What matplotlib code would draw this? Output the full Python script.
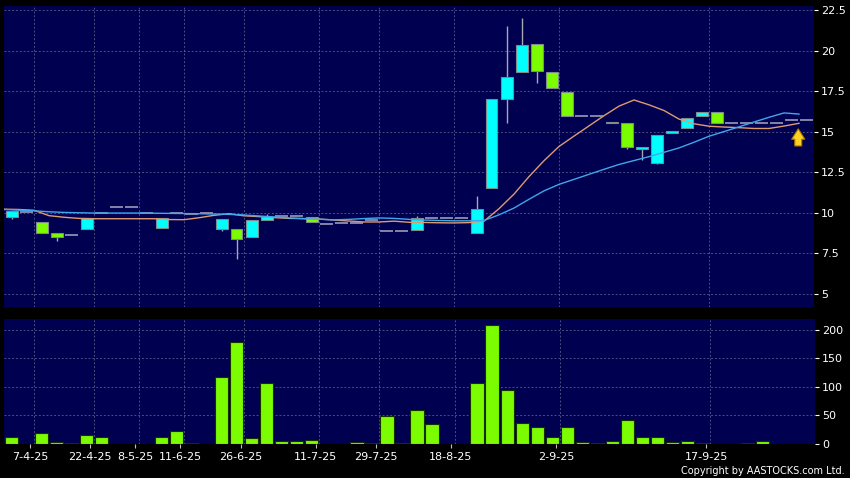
import numpy as np
import matplotlib
matplotlib.use("Agg")
import matplotlib.pyplot as plt

# ---------------- data ----------------
opens = [9.72, 10.06, 9.41, 8.73, 8.60, 8.98, 9.98, 10.33, 10.33, 9.97,
         9.04, 9.96, 9.95, 9.96, 8.98, 8.98, 8.48, 9.55, 9.81, 9.81,
         9.75, 9.30, 9.35, 9.38, 9.55, 8.87, 8.87, 8.93, 9.65, 9.65,
         9.65, 8.73, 11.50, 17.00, 18.67, 20.40, 18.70, 17.47, 15.97, 15.97,
         15.62, 15.52, 13.91, 13.05, 14.90, 15.21, 15.99, 16.23, 15.52, 15.52,
         15.52, 15.52, 15.70, 15.70]
closes = [10.10, 10.06, 8.73, 8.48, 8.60, 9.65, 9.98, 10.33, 10.33, 9.97,
          9.65, 9.96, 9.95, 9.96, 9.59, 8.36, 9.55, 9.75, 9.81, 9.81,
          9.41, 9.30, 9.35, 9.38, 9.55, 8.87, 8.87, 9.65, 9.65, 9.65,
          9.65, 10.22, 17.00, 18.36, 20.33, 18.75, 17.68, 15.97, 15.97, 15.97,
          15.52, 14.04, 14.04, 14.80, 15.04, 15.83, 16.20, 15.52, 15.52, 15.52,
          15.52, 15.52, 15.70, 15.70]
highs = [10.10, 10.06, 9.41, 8.73, 8.60, 9.65, 9.98, 10.33, 10.33, 9.97,
         9.65, 9.96, 9.95, 9.96, 9.59, 8.98, 9.55, 9.92, 9.81, 9.81,
         9.75, 9.30, 9.35, 9.38, 9.55, 8.87, 8.87, 9.80, 9.65, 9.65,
         9.65, 11.03, 17.00, 21.52, 22.00, 20.40, 18.70, 17.47, 15.97, 15.97,
         15.62, 15.52, 14.04, 14.80, 15.04, 15.83, 16.20, 16.23, 15.52, 15.52,
         15.52, 15.52, 15.70, 15.70]
lows = [9.63, 10.06, 8.73, 8.27, 8.60, 8.98, 9.98, 10.33, 10.33, 9.97,
        9.04, 9.96, 9.95, 9.96, 8.89, 7.14, 8.48, 9.55, 9.81, 9.81,
        9.41, 9.30, 9.35, 9.38, 9.55, 8.87, 8.87, 8.93, 9.65, 9.65,
        9.65, 8.73, 11.50, 15.52, 18.67, 18.02, 17.68, 15.97, 15.97, 15.97,
        15.52, 13.91, 13.25, 13.00, 14.90, 15.21, 15.99, 15.52, 15.52, 15.52,
        15.52, 15.52, 15.70, 15.70]
volume = [12, 0, 19, 4, 2, 16, 13, 0, 0.5, 0,
          12, 22, 1.5, 0, 117, 178, 10, 106, 5, 6,
          7, 0, 0, 4, 2, 49, 2.5, 60, 35, 0,
          0.5, 106, 209, 95, 36, 29, 13, 29, 4, 1.5,
          6, 42, 12, 12, 4, 6, 1.5, 0.5, 0, 1.5,
          6, 0, 0, 0]
# moving averages, one value per slot boundary (first value = before slot 0)
ma10 = [10.22, 10.20, 10.15, 9.82, 9.72, 9.65, 9.63, 9.63, 9.63, 9.63,
        9.63, 9.58, 9.57, 9.69, 9.84, 9.94, 9.81, 9.76, 9.70, 9.65,
        9.64, 9.61, 9.55, 9.49, 9.43, 9.43, 9.48, 9.41, 9.40, 9.38,
        9.37, 9.39, 9.48, 10.25, 11.15, 12.23, 13.21, 14.09, 14.73, 15.36,
        15.99, 16.58, 16.96, 16.66, 16.31, 15.78, 15.49, 15.34, 15.29, 15.25,
        15.20, 15.20, 15.35, 15.52]
ma20 = [10.20, 10.16, 10.12, 10.06, 10.02, 10.00, 9.98, 9.98, 9.98, 9.98,
        9.97, 9.96, 9.95, 9.94, 9.92, 9.90, 9.86, 9.80, 9.74, 9.68,
        9.63, 9.60, 9.56, 9.59, 9.64, 9.68, 9.65, 9.59, 9.55, 9.52,
        9.50, 9.50, 9.52, 9.87, 10.29, 10.83, 11.35, 11.75, 12.06, 12.37,
        12.68, 12.98, 13.22, 13.46, 13.73, 14.00, 14.35, 14.72, 15.01, 15.30,
        15.60, 15.89, 16.16, 16.09]
date_labels = ["7-4-25", "22-4-25", "8-5-25", "11-6-25", "26-6-25",
               "11-7-25", "29-7-25", "18-8-25", "2-9-25", "17-9-25"]
date_slots = [2, 6, 9, 12, 16, 21, 25, 30, 37, 47]
price_ticks = [5, 7.5, 10, 12.5, 15, 17.5, 20, 22.5]
price_tick_labels = ["5", "7.5", "10", "12.5", "15", "17.5", "20", "22.5"]
vol_ticks = [0, 50, 100, 150, 200]

# ---------------- styling ----------------
BG = "#000050"
GRID = "#62628e"
CYAN = "#00ffff"
GREEN = "#7cfc00"
DASH = "#9c9cb8"
WICK = "#a8a8b0"
EDGE = "#7e8c8c"
MA10C = "#e09a70"
MA20C = "#3fa7ea"

fig = plt.figure(figsize=(8.5, 4.78), dpi=100, facecolor="black")
W, H = 850.0, 478.0
axp = fig.add_axes([4 / W, 1 - 306.7 / H, 810 / W, 300.7 / H], facecolor=BG)
axv = fig.add_axes([4 / W, 1 - 444 / H, 811 / W, 125 / H], facecolor=BG, sharex=axp)

n = len(closes)
x = np.arange(n)
o = np.array(opens); c = np.array(closes)
hi = np.array(highs); lo = np.array(lows)

# grid
for ax in (axp, axv):
    for k in date_slots:
        ax.axvline(k - 0.5, color=GRID, lw=0.55, ls=(0, (2.5, 2.5)), zorder=0)
    for s in ax.spines.values():
        s.set_visible(False)
for t in price_ticks:
    axp.axhline(t, color=GRID, lw=0.55, ls=(0, (2.5, 2.5)), zorder=0)
for t in vol_ticks[1:]:
    axv.axhline(t, color=GRID, lw=0.55, ls=(0, (2.5, 2.5)), zorder=0)

# candles
up = c > o
down = c < o
flat = c == o
axp.vlines(x[~flat], lo[~flat], hi[~flat], color=WICK, lw=1.0, zorder=2)
axp.bar(x[up], (c - o)[up], bottom=o[up], width=0.8, color=CYAN,
        edgecolor=EDGE, linewidth=0.8, zorder=3)
axp.bar(x[down], (o - c)[down], bottom=c[down], width=0.8, color=GREEN,
        edgecolor=EDGE, linewidth=0.8, zorder=3)
axp.hlines(c[flat], x[flat] - 0.43, x[flat] + 0.43, color=DASH, lw=1.2, zorder=3)

# moving averages (plotted at slot boundaries)
xm = np.arange(len(ma10)) - 0.5
axp.plot(xm, ma10, color=MA10C, lw=1.0, zorder=4)
axp.plot(xm, ma20, color=MA20C, lw=1.0, zorder=4)

# arrow marker
axp.annotate("", xy=(52.45, 15.35), xytext=(52.45, 13.95),
             arrowprops=dict(arrowstyle="simple,head_width=0.95,head_length=0.75,tail_width=0.5",
                             fc="#ffd21f", ec="#b07800", lw=0.8, mutation_scale=10),
             zorder=5)

axp.set_xlim(-0.5, 53.5)
axp.set_ylim(4.2, 22.76)
axv.set_ylim(0, 219)

# volume
axv.bar(x, volume, width=0.88, color=GREEN, edgecolor="#143000", linewidth=0.8, zorder=3)

# axes / ticks
axp.yaxis.tick_right()
axp.set_yticks(price_ticks)
axp.set_yticklabels(price_tick_labels)
axv.yaxis.tick_right()
axv.set_yticks(vol_ticks)
for ax in (axp, axv):
    ax.tick_params(axis="y", colors="white", labelcolor="white", labelsize=8,
                   length=3, width=0.8, pad=2)
axp.tick_params(axis="x", bottom=False, labelbottom=False)
axv.set_xticks([k - 0.75 for k in date_slots])
axv.set_xticklabels(date_labels)
axv.tick_params(axis="x", colors="#c0c0c0", labelcolor="white", labelsize=8,
                length=3, width=0.8, pad=3)

fig.text(845 / W, 1 - 471 / H, "Copyright by AASTOCKS.com Ltd.", color="white",
         fontsize=7, ha="right", va="center")

fig.savefig("out.png", dpi=100, facecolor="black")
